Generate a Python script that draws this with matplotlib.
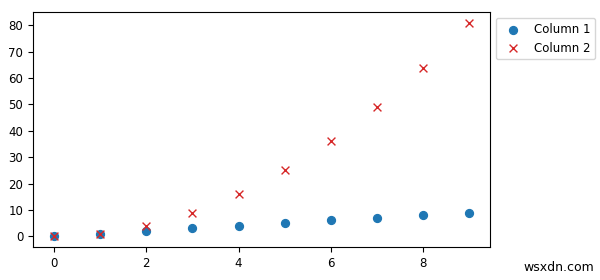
import matplotlib
matplotlib.use("Agg")
import matplotlib.pyplot as plt

x = [0, 1, 2, 3, 4, 5, 6, 7, 8, 9]
column1 = [0, 1, 2, 3, 4, 5, 6, 7, 8, 9]
column2 = [0, 1, 4, 9, 16, 25, 36, 49, 64, 81]

fig = plt.figure(figsize=(6, 2.8), dpi=100)
ax = fig.add_axes([0.055, 0.118, 0.762, 0.839])
ax.scatter(x, column1, s=32, color="#1f77b4", marker="o", label="Column 1")
ax.scatter(x, column2, s=32, color="#d62728", marker="x", linewidths=1, label="Column 2")
ax.tick_params(labelsize=8.5)
ax.set_yticks([0, 10, 20, 30, 40, 50, 60, 70, 80])
ax.set_xticks([0, 2, 4, 6, 8])
ax.legend(loc="upper left", bbox_to_anchor=(1.0, 1.0), fontsize=8.5)
fig.text(0.99, 0.02, "wsxdn.com", ha="right", va="bottom", fontsize=9)
fig.savefig("out.png", dpi=100)
